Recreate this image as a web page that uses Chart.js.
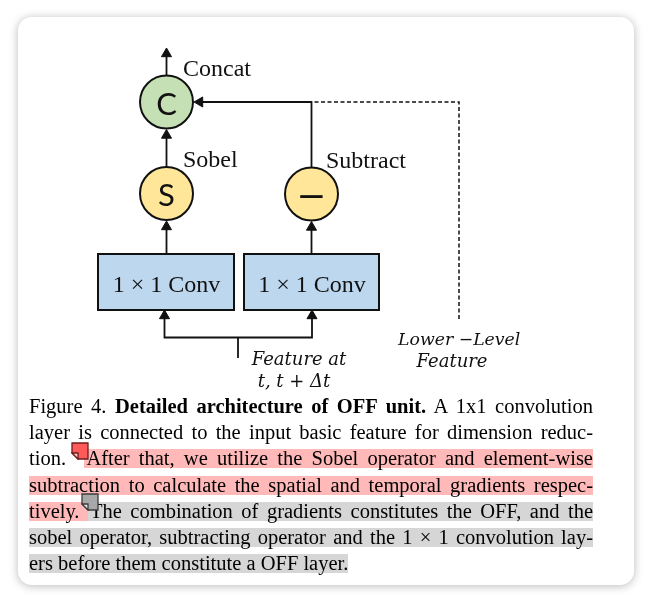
<!DOCTYPE html>
<html>
<head>
<meta charset="utf-8">
<script src="https://cdn.jsdelivr.net/npm/chart.js@4.4.1/dist/chart.umd.min.js"></script>
<style>
  body { margin: 0; background: #fff; width: 653px; height: 604px; overflow: hidden; }
  #card {
    position: absolute; left: 18px; top: 17px; width: 616px; height: 568px;
    background: #fff; border-radius: 14px;
    box-shadow: 0 1px 10px rgba(0,0,0,0.28);
  }
  #diagram { position: absolute; left: 0; top: 0; width: 616px; height: 378px; }
  #cap {
    position: absolute; left: 11px; top: 376px; width: 564px;
    font-family: "Liberation Serif", "Times New Roman", serif;
    font-size: 20.5px; line-height: 26.2px; color: #000;
  }
  #cap div { text-align: justify; text-align-last: justify; }
  #cap div.last { text-align-last: left; }
  .p { background: linear-gradient(to bottom, transparent 2.2px, #ffb9b9 2.2px, #ffb9b9 calc(100% - 1px), transparent calc(100% - 1px)); }
  .g { background: linear-gradient(to bottom, transparent 2.2px, #d6d6d6 2.2px, #d6d6d6 calc(100% - 1px), transparent calc(100% - 1px)); }
  .note { position: absolute; }
</style>
</head>
<body>
<div id="card">
  <div id="diagram"><canvas id="myChart"></canvas></div>
  <div id="cap">
    <div>Figure 4. <b>Detailed architecture of OFF unit.</b> A 1x1 convolution</div>
    <div>layer is connected to the input basic feature for dimension reduc-</div>
    <div>tion. &nbsp;<span class="p" style="padding-left:2px">After that, we utilize the Sobel operator and element-wise</span></div>
    <div><span class="p">subtraction to calculate the spatial and temporal gradients respec-</span></div>
    <div><span class="p">tively. </span> <span class="g" style="padding-left:2px">The combination of gradients constitutes the OFF, and the</span></div>
    <div><span class="g">sobel operator, subtracting operator and the 1 &times; 1 convolution lay-</span></div>
    <div class="last"><span class="g">ers before them constitute a OFF layer.</span></div>
  </div>
  <svg class="note" style="left:53px;top:425px" width="18" height="18" viewBox="0 0 18 18">
    <path d="M1,1 H17 V17 H7 L1,11 Z" fill="#ff5a5a" stroke="#6e1c1c" stroke-width="1.3"/>
    <path d="M1,11 H7 V17 Z" fill="#ffd0d0" stroke="#6e1c1c" stroke-width="1.3"/>
  </svg>
  <svg class="note" style="left:63px;top:476px" width="18" height="18" viewBox="0 0 18 18">
    <path d="M1,1 H17 V17 H7 L1,11 Z" fill="#a8a8a8" stroke="#3c3c3c" stroke-width="1.3"/>
    <path d="M1,11 H7 V17 Z" fill="#e6e6e6" stroke="#3c3c3c" stroke-width="1.3"/>
  </svg>
</div>
<script>
// operators (circles)
const nodeNames = ['Concat', 'Sobel', 'Subtract'];
const nodeSymbols = ['C', 'S', '\u2014'];
const nodeX = [148.5, 148.5, 293.5];
const nodeY = [85, 176.5, 177];

// 1x1 conv boxes
const boxLabels = ['1 \u00d7 1 Conv', '1 \u00d7 1 Conv'];
const boxLeft = [80, 226];
const boxRight = [216, 361];
const boxTop = [237, 237];
const boxBottom = [293, 293];

// input captions
const inputLines = ['Feature at', 't, t + \u0394t'];
const lowerLines = ['Lower \u2212Level', 'Feature'];

// wires: polylines, last point is where the arrow tip goes
const wires = [
  {pts: [[148.5, 58.5], [148.5, 31]], arrow: true},
  {pts: [[148.5, 150], [148.5, 112.5]], arrow: true},
  {pts: [[293.5, 150], [293.5, 85], [176, 85]], arrow: true},
  {pts: [[441, 302], [441, 85], [293.5, 85]], arrow: false, dashed: true},
  {pts: [[148.5, 237], [148.5, 204]], arrow: true},
  {pts: [[293.5, 237], [293.5, 204.5]], arrow: true},
  {pts: [[220, 341], [220, 320.5]], arrow: false},
  {pts: [[220, 320.5], [146.5, 320.5], [146.5, 293]], arrow: true},
  {pts: [[220, 320.5], [294, 320.5], [294, 293]], arrow: true}
];

const headR = 5.8;
const datasets = [];
const heads = [];
const headRot = [];

wires.forEach(w => {
  const pts = w.pts.map(p => ({x: p[0], y: p[1]}));
  if (w.arrow) {
    const a = pts[pts.length - 2], b = pts[pts.length - 1];
    const dx = b.x - a.x, dy = b.y - a.y;
    const len = Math.hypot(dx, dy);
    const c = {x: b.x - dx / len * headR, y: b.y - dy / len * headR};
    pts[pts.length - 1] = c;
    heads.push(c);
    headRot.push(Math.atan2(dx, -dy) * 180 / Math.PI);
  }
  datasets.push({
    data: pts,
    showLine: true,
    borderColor: '#111',
    borderWidth: w.dashed ? 1.5 : 1.8,
    borderDash: w.dashed ? [4, 2.5] : [],
    pointRadius: 0,
    order: 3
  });
});

datasets.push({
  data: heads,
  pointStyle: 'triangle',
  rotation: headRot,
  pointRadius: headR,
  pointBackgroundColor: '#111',
  pointBorderColor: '#111',
  pointBorderWidth: 1,
  order: 2
});

datasets.push({
  data: nodeX.map((x, i) => ({x: x, y: nodeY[i]})),
  pointStyle: 'circle',
  pointRadius: 26.5,
  pointBackgroundColor: ['#c5e0b4', '#ffe699', '#ffe699'],
  pointBorderColor: '#111',
  pointBorderWidth: 2,
  order: 1
});

const drawParts = {
  id: 'drawParts',
  beforeDatasetsDraw(chart) {
    const {ctx, scales: {x, y}} = chart;
    ctx.save();
    ctx.fillStyle = '#bdd7ee';
    ctx.strokeStyle = '#111';
    ctx.lineWidth = 2;
    boxLabels.forEach((t, i) => {
      const x0 = x.getPixelForValue(boxLeft[i]), x1 = x.getPixelForValue(boxRight[i]);
      const y0 = y.getPixelForValue(boxTop[i]), y1 = y.getPixelForValue(boxBottom[i]);
      ctx.fillRect(x0, y0, x1 - x0, y1 - y0);
      ctx.strokeRect(x0, y0, x1 - x0, y1 - y0);
    });
    ctx.restore();
  },
  afterDatasetsDraw(chart) {
    const {ctx, scales: {x, y}} = chart;
    ctx.save();
    ctx.fillStyle = '#111';
    // symbols inside circles
    ctx.textAlign = 'center';
    nodeSymbols.forEach((s, i) => {
      const px = x.getPixelForValue(nodeX[i]);
      if (i === 2) {
        ctx.font = 'bold 33px Lato';
        ctx.textBaseline = 'middle';
        ctx.fillText(s, px, y.getPixelForValue(nodeY[i]) + 1);
      } else {
        ctx.font = '31px Lato';
        ctx.textBaseline = 'alphabetic';
        ctx.fillText(s, px, y.getPixelForValue(nodeY[i] + 12.5));
      }
    });
    // operator names
    ctx.textBaseline = 'alphabetic';
    ctx.textAlign = 'left';
    ctx.font = '24px "Liberation Serif"';
    ctx.fillText(nodeNames[0], x.getPixelForValue(165), y.getPixelForValue(59));
    ctx.fillText(nodeNames[1], x.getPixelForValue(165), y.getPixelForValue(150));
    ctx.fillText(nodeNames[2], x.getPixelForValue(308), y.getPixelForValue(151));
    // box labels
    ctx.textAlign = 'center';
    boxLabels.forEach((t, i) => {
      ctx.fillText(t, x.getPixelForValue((boxLeft[i] + boxRight[i]) / 2 + 0.5), y.getPixelForValue(275));
    });
    // italic captions
    ctx.font = 'italic 18px "DejaVu Serif"';
    ctx.fillText(inputLines[0], x.getPixelForValue(281), y.getPixelForValue(348));
    ctx.fillText(inputLines[1], x.getPixelForValue(276), y.getPixelForValue(370));
    ctx.textAlign = 'left';
    ctx.font = 'italic 17.3px "DejaVu Serif"';
    ctx.fillText(lowerLines[0], x.getPixelForValue(380), y.getPixelForValue(328));
    ctx.textAlign = 'center';
    ctx.font = 'italic 18px "DejaVu Serif"';
    ctx.fillText(lowerLines[1], x.getPixelForValue(434), y.getPixelForValue(350));
    ctx.restore();
  }
};

const ctx = document.getElementById('myChart');

const chart = new Chart(ctx, {
  type: 'scatter',
  data: {datasets: datasets},
  options: {
    responsive: true,
    maintainAspectRatio: false,
    animation: false,
    events: [],
    layout: {padding: 0, autoPadding: false},
    scales: {
      x: {type: 'linear', min: 0, max: 616, display: false},
      y: {type: 'linear', min: 0, max: 378, reverse: true, display: false}
    },
    plugins: {legend: {display: false}, tooltip: {enabled: false}}
  },
  plugins: [drawParts]
});
</script>
</body>
</html>
